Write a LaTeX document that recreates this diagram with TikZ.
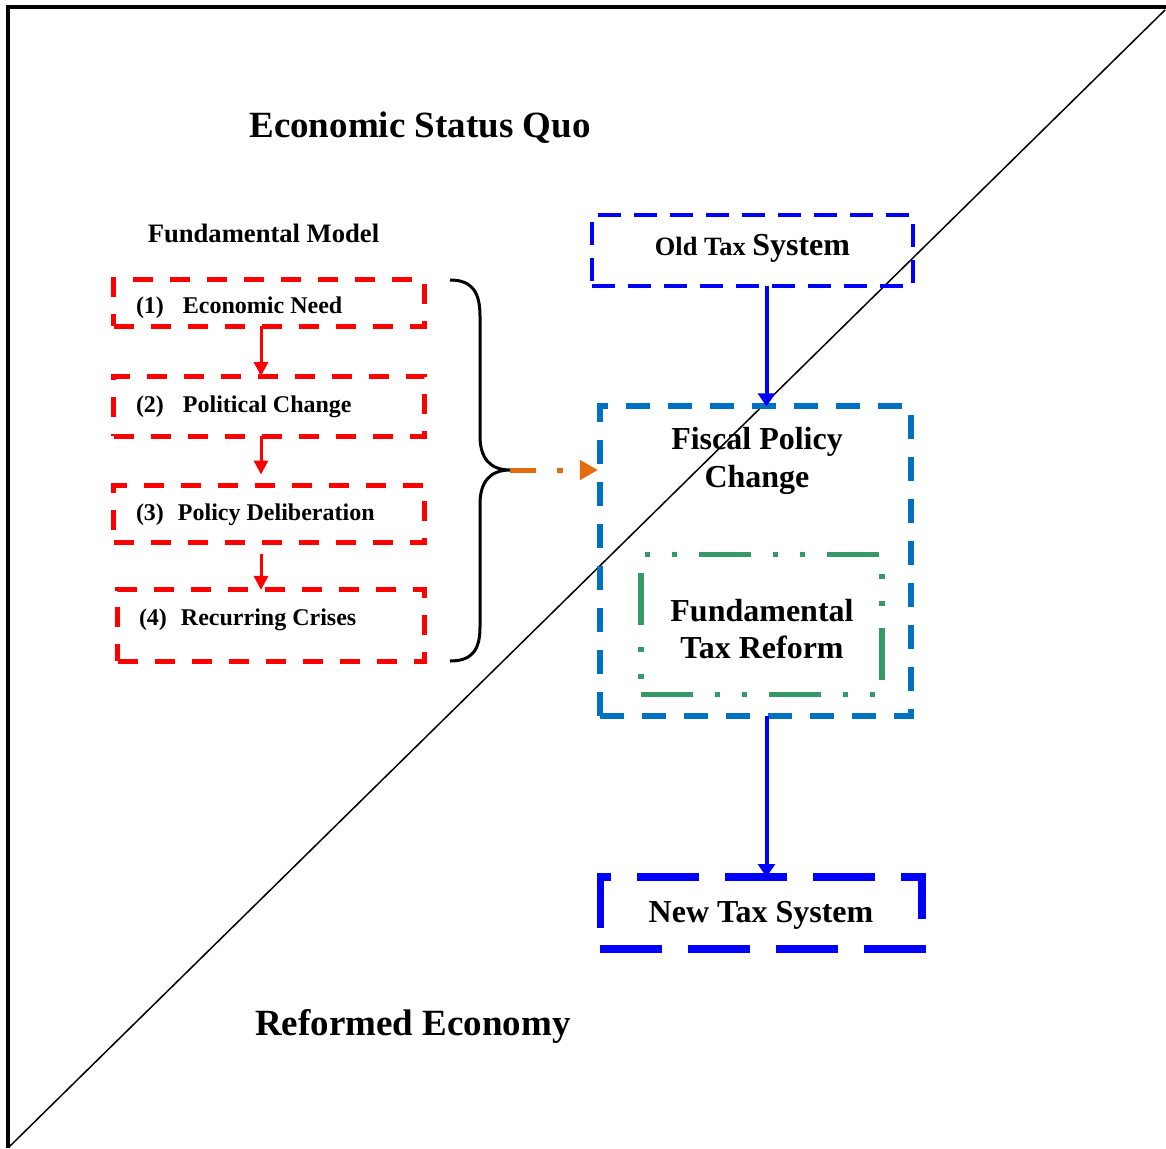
\documentclass[tikz,border=0pt]{standalone}
\usepackage{fontspec}
\setmainfont{Liberation Serif}
\usetikzlibrary{arrows.meta}
\definecolor{stepred}{RGB}{255,0,0}
\definecolor{pureblue}{RGB}{0,0,255}
\definecolor{fiscalblue}{RGB}{0,112,192}
\definecolor{reformgreen}{RGB}{53,154,102}
\definecolor{linkorange}{RGB}{228,108,10}
\newcommand{\fs}[1]{\fontsize{#1}{#1}\selectfont\bfseries}
\begin{document}
\begin{tikzpicture}[x=1pt,y=-1pt,
  every node/.style={inner sep=0pt, outer sep=0pt},
  title/.style={anchor=base, font=\fs{37}},
  stepbox/.style={draw=stepred, line width=5pt, dash pattern=on 20pt off 17pt},
  steplabel/.style={anchor=base west, font=\fs{24}},
  steparrow/.style={draw=stepred, line width=3pt, -{Triangle[length=14pt,width=14pt]}},
  taxbox/.style={draw=pureblue, dash pattern=on 23pt off 13pt},
  bluearrow/.style={draw=pureblue, line width=4pt, -{Triangle[length=13pt,width=17pt]}},
  boxtext/.style={align=center, font=\fs{32}, execute at begin node=\setlength{\baselineskip}{37.5pt}},
]
\useasboundingbox (0,0) rectangle (1166,1148);

% frame and diagonal divide
\draw[line width=4pt] (7.5,1148) -- (7.5,7.5) -- (1166,7.5);
\draw[line width=1.5pt] (1165,10) -- (9,1147);

% region titles
\node[title] (statusquo) at (420,137.5) {Economic Status Quo};
\node[title] (reformed) at (413,1035) {Reformed Economy};

% fundamental model column
\node[anchor=base, font=\fs{26.6}] (fmtitle) at (263.5,242) {Fundamental Model};
\node[stepbox, minimum width=311pt, minimum height=46.5pt] (s1) at (269,303) {};
\node[stepbox, minimum width=311pt, minimum height=60pt] (s2) at (269,406) {};
\node[stepbox, minimum width=311pt, minimum height=57pt] (s3) at (269,514) {};
\node[stepbox, minimum width=307pt, minimum height=71.5pt] (s4) at (271,625.7) {};
\node[steplabel] (l1) at (136,313) {(1)\hspace{19pt}Economic Need};
\node[steplabel] (l2) at (136,412) {(2)\hspace{19pt}Political Change};
\node[steplabel] (l3) at (136,520) {(3)\hspace{14pt}Policy Deliberation};
\node[steplabel] (l4) at (139,625) {(4)\hspace{14pt}Recurring Crises};

\coordinate (spine) at (261,0);
\draw[steparrow] (s1.south -| spine) -- (s2.north -| spine);
\draw[steparrow, shorten >=11pt] (s2.south -| spine) -- (s3.north -| spine);
\draw[steparrow, shorten <=11pt] (s3.south -| spine) -- (s4.north -| spine);

% brace gathering the four steps
\coordinate (bracetop) at (450,280);
\coordinate (bracetip) at (510,470);
\coordinate (bracebot) at (450,661);
\draw[line width=3pt]
  (bracetop) .. controls (472,280) and (480,292) .. (480,316)
  -- (480,436) .. controls (480,458) and (490,470) .. (bracetip)
  .. controls (490,470) and (480,482) .. (480,504)
  -- (480,627) .. controls (480,650) and (472,661) .. (bracebot);

% fiscal policy column
\node[taxbox, line width=4pt, minimum width=321pt, minimum height=71pt] (oldtax) at (752.5,250.5) {};
\node[anchor=base, font=\fs{26.4}] (oldtaxtext) at (752.5,255) {Old Tax {\fs{32}System}};

\node[draw=fiscalblue, line width=6pt, dash pattern=on 24pt off 18pt,
      minimum width=311pt, minimum height=310pt] (fiscal) at (755.4,561.4) {};
\node[boxtext] (fiscaltext) at (757,461) {Fiscal Policy\\Change};

\node[draw=reformgreen, line width=5.5pt,
      dash pattern=on 52pt off 22pt on 5pt off 22pt on 5pt off 22pt,
      minimum width=241pt, minimum height=140pt] (ftr) at (761.5,624.5) {};
\node[boxtext] (ftrtext) at (762,629) {Fundamental\\Tax Reform};

\node[taxbox, line width=7.5pt, dash pattern=on 62pt off 26pt,
      minimum width=321.5pt, minimum height=72pt] (newtax) at (761,913) {};
\node[anchor=base, font=\fs{32}] (newtaxtext) at (761,922) {New Tax System};

\coordinate (taxspine) at (766.5,0);
\draw[bluearrow] (oldtax.south -| taxspine) -- (fiscal.north -| taxspine);
\draw[bluearrow] (fiscal.south -| taxspine) -- (newtax.north -| taxspine);

% link from the model to the fiscal policy change
\draw[draw=linkorange, line width=5pt, dash pattern=on 26pt off 21pt on 6pt off 30pt,
      -{Triangle[length=18pt,width=19pt]}, shorten >=2pt]
  (bracetip) -- (bracetip -| fiscal.west);
\end{tikzpicture}
\end{document}
